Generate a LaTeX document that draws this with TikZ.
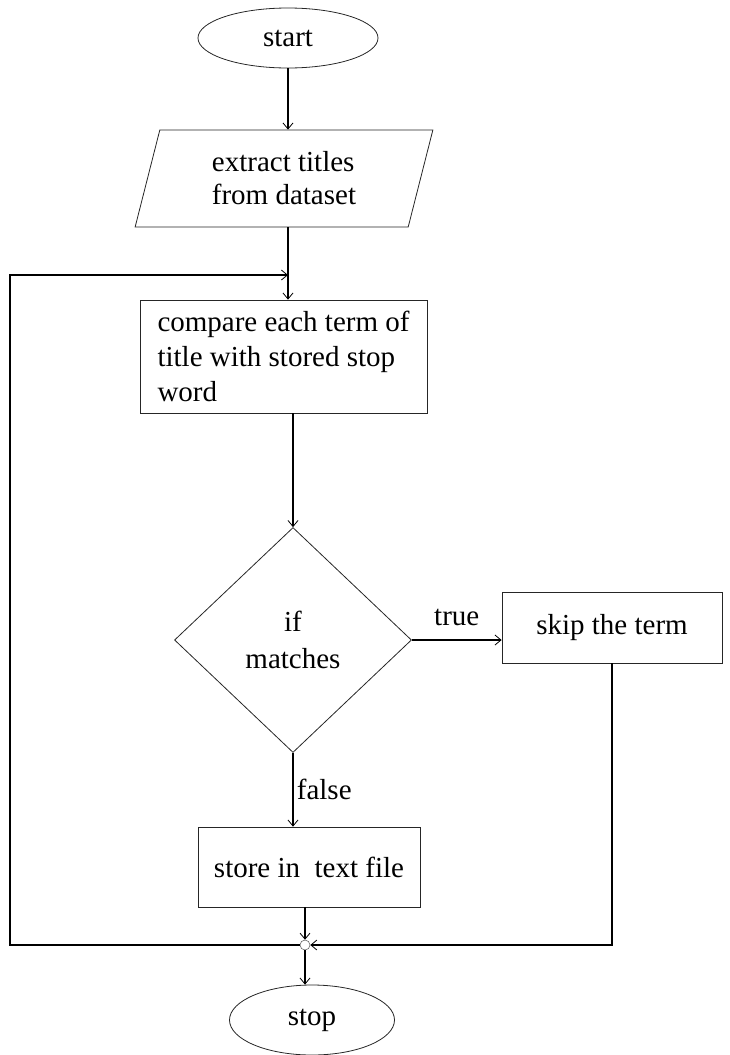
\documentclass[tikz,border=0pt]{standalone}
\usepackage{fontspec}
\setmainfont{Liberation Serif}
\usetikzlibrary{shapes.geometric,arrows.meta}
\begin{document}
\begin{tikzpicture}[x=1pt,y=-1pt,
  every node/.style={font=\fontsize{29}{35}\selectfont},
  box/.style={draw=black!85, line width=0.8pt, inner sep=0pt},
  arr/.style={draw=black, line width=1.1pt, -{Straight Barb[length=6pt,width=10pt,line width=0.8pt]}}]
\useasboundingbox (0,0) rectangle (729,1055);

\node[box, ellipse, minimum width=180pt, minimum height=60pt] (start) at (288,38) {start};
\node[box, trapezium, trapezium left angle=75, trapezium right angle=105,
      trapezium stretches=true, minimum width=298pt, minimum height=97pt,
      align=left, font=\fontsize{29}{33}\selectfont] (extract) at (284,178.5) {extract titles\\from dataset};
\node[box, rectangle, minimum width=287pt, minimum height=113pt,
      align=left] (compare) at (283.5,356.5) {compare each term of\\title with stored stop\\word};
\node[box, diamond, minimum width=237pt, minimum height=225pt, align=center,
      font=\fontsize{29}{37}\selectfont] (dia) at (293,640) {if\\matches};
\node[box, minimum width=220pt, minimum height=71pt] (skip) at (612,627.5) {skip the term};
\node[box, minimum width=222pt, minimum height=80pt] (store) at (309,867) {store in\ \ text file};
\node[draw=black!60, circle, minimum size=10pt, inner sep=0pt, line width=0.6pt] (j) at (305,945) {};
\node[box, ellipse, minimum width=165pt, minimum height=70pt] (stop) at (312,1020) {stop};

\coordinate (lb) at (10,945);
\coordinate (lt) at (10,275);

\draw[arr] (start.south) -- (start.south |- extract.north);
\draw[arr] (start.south |- extract.south) -- (start.south |- compare.north);
\draw[arr] (dia.north |- compare.south) -- (dia.north);
\draw[arr] (dia.east) -- node[above=10pt]{true} (dia.east -| skip.west);
\draw[arr] (dia.south) -- node[right]{false} (dia.south |- store.north);
\draw[arr] (j.center |- store.south) -- (j.north);
\draw[arr] (skip.south) -- (skip.south |- j) -- (j.east);
\draw[arr] (j.south) -- (j.south |- stop.north);
\draw[arr] (j.west) -- (lb) -- (lt) -- (start.south |- lt);
\end{tikzpicture}
\end{document}
